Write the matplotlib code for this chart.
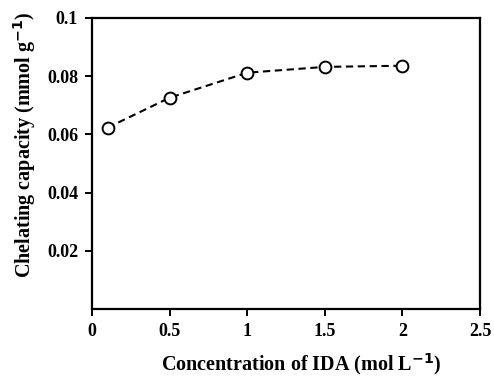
import matplotlib
matplotlib.use("Agg")
import matplotlib.pyplot as plt

conc = [0.1, 0.5, 1.0, 1.5, 2.0]
capacity = [0.0623, 0.0726, 0.0812, 0.0832, 0.0836]
xticks = [0, 0.5, 1, 1.5, 2, 2.5]
xticklabels = ["0", "0.5", "1", "1.5", "2", "2.5"]
yticks = [0.02, 0.04, 0.06, 0.08, 0.1]
yticklabels = ["0.02", "0.04", "0.06", "0.08", "0.1"]

plt.rcParams['font.family'] = ['Liberation Serif', 'DejaVu Serif']
plt.rcParams['font.weight'] = 'bold'
plt.rcParams['mathtext.fontset'] = 'custom'
plt.rcParams['mathtext.rm'] = 'Liberation Serif:bold'

fig = plt.figure(figsize=(4.94, 3.80), dpi=100)
ax = fig.add_axes([92/494, 1-309/380, (480-92)/494, (309-18)/380])
ax.plot(conc, capacity, linestyle=(0, (3.5, 2.2)), color='black', linewidth=1.5,
        marker='o', markersize=8.5, markerfacecolor='white', markeredgecolor='black',
        markeredgewidth=1.4)
ax.set_xlim(0, 2.5)
ax.set_ylim(0, 0.1)
ax.set_xticks(xticks)
ax.set_xticklabels(xticklabels, fontsize=13, fontweight='bold')
ax.set_yticks(yticks)
ax.set_yticklabels(yticklabels, fontsize=13, fontweight='bold')
ax.tick_params(direction='out', length=5, width=1.4, top=False, right=False, pad=5)
for s in ax.spines.values():
    s.set_linewidth(1.6)
ax.set_xlabel(r'Concentration of IDA (mol L$^{\mathbf{-1}}$)', fontsize=14.5, fontweight='bold')
ax.set_ylabel(r'Chelating capacity (mmol g$^{\mathbf{-1}}$)', fontsize=14.5, fontweight='bold')
ax.xaxis.set_label_coords(0.54, -0.145)
ax.yaxis.set_label_coords(-0.14, 0.565)
fig.savefig("out.png", dpi=100)
